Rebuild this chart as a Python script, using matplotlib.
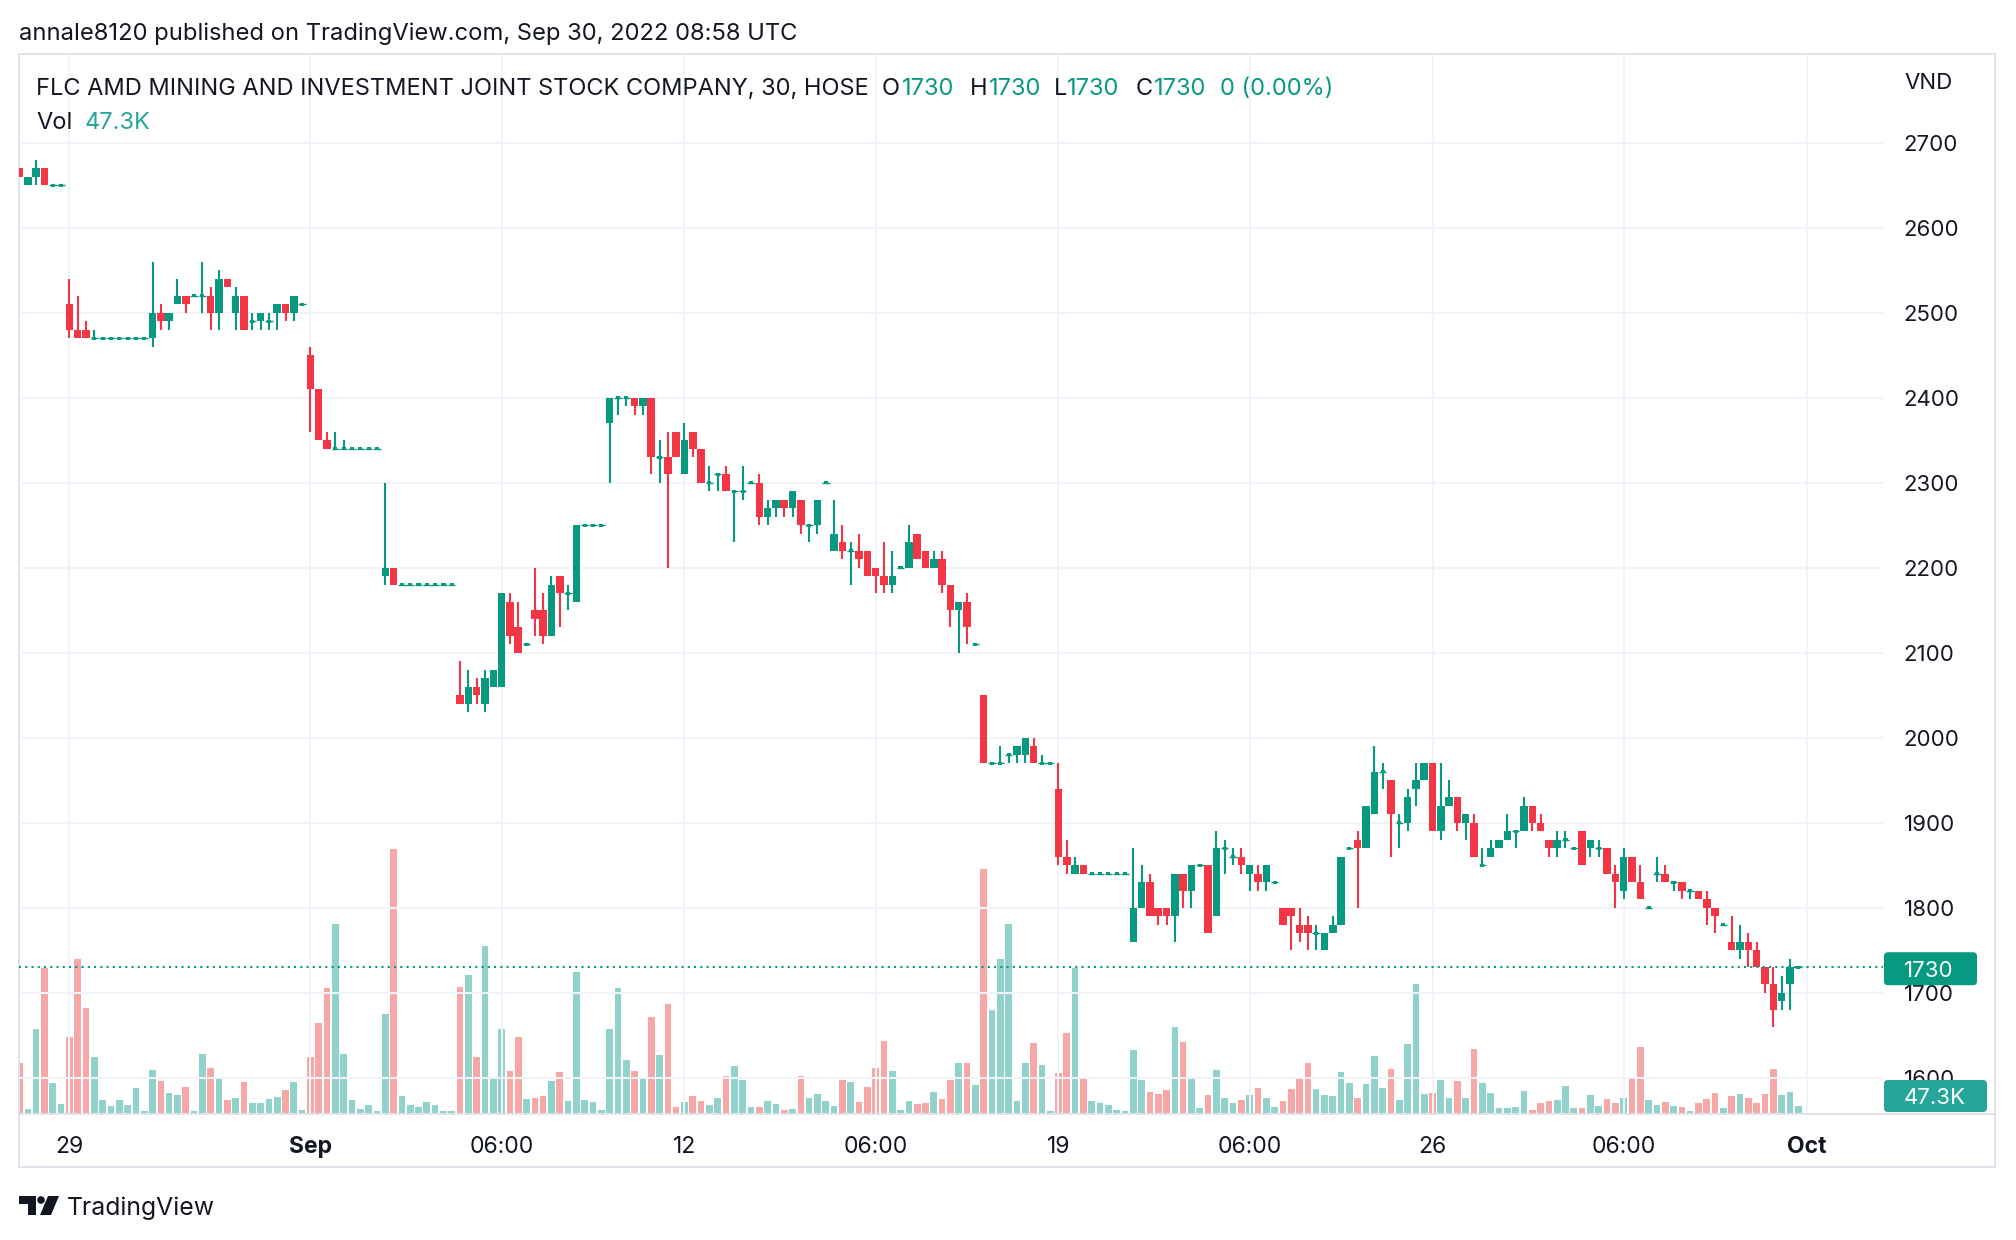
import matplotlib
matplotlib.use("Agg")
import matplotlib.pyplot as plt
import numpy as np
from matplotlib.patches import Rectangle, FancyBboxPatch, Polygon, Circle
from matplotlib.transforms import IdentityTransform, blended_transform_factory

plt.rcParams['font.family'] = ['Inter', 'DejaVu Sans']

# ---------------- data ----------------
bar_index = list(range(-6, 209))

opens = [2670, 2650, 2660, 2670, 2650, 2650,
         2510, 2480, 2480, 2470, 2470, 2470, 2470, 2470, 2470, 2470,
         2470, 2500, 2490, 2510, 2520, 2520, 2520, 2520, 2500, 2540,
         2500, 2520, 2490, 2490, 2490, 2500, 2510, 2500, 2510, 2450,
         2410, 2350, 2340, 2340, 2340, 2340, 2340, 2340, 2190, 2200,
         2180, 2180, 2180, 2180, 2180, 2180, 2180, 2050, 2040, 2060,
         2040, 2060, 2060, 2160, 2130, 2110, 2150, 2150, 2120, 2190,
         2170, 2160, 2250, 2250, 2250, 2370, 2400, 2400, 2400, 2390,
         2400, 2330, 2330, 2360, 2310, 2360, 2340, 2300, 2310, 2310,
         2290, 2290, 2300, 2300, 2260, 2270, 2280, 2270, 2280, 2250,
         2250, 2300, 2220, 2230, 2220, 2220, 2220, 2200, 2190, 2180,
         2200, 2200, 2240, 2220, 2200, 2210, 2180, 2150, 2160, 2110,
         2050, 1970, 1970, 1980, 1980, 1980, 1990, 1970, 1970, 1940,
         1860, 1840, 1850, 1840, 1840, 1840, 1840, 1840, 1760, 1800,
         1830, 1800, 1800, 1790, 1840, 1820, 1850, 1850, 1790, 1870,
         1860, 1860, 1840, 1840, 1830, 1830, 1800, 1800, 1780, 1780,
         1770, 1750, 1770, 1780, 1870, 1880, 1870, 1910, 1960, 1950,
         1900, 1900, 1940, 1950, 1970, 1890, 1920, 1930, 1900, 1900,
         1850, 1860, 1870, 1880, 1890, 1890, 1920, 1900, 1880, 1870,
         1880, 1870, 1890, 1870, 1870, 1870, 1840, 1820, 1860, 1830,
         1800, 1840, 1840, 1830, 1830, 1820, 1820, 1810, 1800, 1780,
         1760, 1750, 1760, 1750, 1730, 1710, 1690, 1710, 1730]

highs = [2670, 2660, 2680, 2670, 2650, 2650,
         2540, 2520, 2490, 2480, 2470, 2470, 2470, 2470, 2470, 2470,
         2560, 2510, 2500, 2540, 2520, 2520, 2560, 2530, 2550, 2540,
         2530, 2520, 2500, 2500, 2500, 2510, 2510, 2520, 2510, 2460,
         2410, 2360, 2360, 2350, 2340, 2340, 2340, 2340, 2300, 2200,
         2180, 2180, 2180, 2180, 2180, 2180, 2180, 2090, 2080, 2070,
         2080, 2080, 2170, 2170, 2160, 2110, 2200, 2170, 2190, 2190,
         2180, 2250, 2250, 2250, 2250, 2400, 2400, 2400, 2400, 2400,
         2400, 2350, 2360, 2360, 2370, 2360, 2340, 2320, 2310, 2320,
         2290, 2320, 2300, 2310, 2280, 2280, 2280, 2290, 2280, 2250,
         2280, 2300, 2280, 2250, 2230, 2240, 2220, 2200, 2230, 2220,
         2200, 2250, 2240, 2220, 2220, 2220, 2180, 2160, 2170, 2110,
         2050, 1970, 1990, 1980, 1990, 2000, 2000, 1980, 1970, 1970,
         1880, 1860, 1850, 1840, 1840, 1840, 1840, 1840, 1870, 1850,
         1840, 1800, 1800, 1840, 1840, 1850, 1850, 1850, 1890, 1880,
         1870, 1870, 1850, 1850, 1850, 1830, 1800, 1800, 1800, 1790,
         1780, 1770, 1790, 1860, 1870, 1890, 1920, 1990, 1970, 1950,
         1910, 1940, 1970, 1970, 1970, 1970, 1950, 1930, 1910, 1910,
         1870, 1880, 1880, 1910, 1890, 1930, 1920, 1910, 1880, 1890,
         1890, 1870, 1890, 1880, 1880, 1870, 1850, 1870, 1860, 1850,
         1800, 1860, 1850, 1830, 1830, 1820, 1820, 1820, 1800, 1780,
         1790, 1780, 1770, 1760, 1730, 1730, 1720, 1740, 1730]

lows = [2660, 2650, 2650, 2650, 2650, 2650,
        2470, 2470, 2470, 2470, 2470, 2470, 2470, 2470, 2470, 2470,
        2460, 2480, 2480, 2510, 2500, 2520, 2500, 2480, 2480, 2530,
        2480, 2480, 2480, 2480, 2480, 2480, 2490, 2490, 2510, 2360,
        2350, 2340, 2340, 2340, 2340, 2340, 2340, 2340, 2180, 2180,
        2180, 2180, 2180, 2180, 2180, 2180, 2180, 2040, 2030, 2040,
        2030, 2060, 2060, 2110, 2100, 2110, 2120, 2110, 2120, 2130,
        2150, 2160, 2250, 2250, 2250, 2300, 2380, 2390, 2380, 2380,
        2310, 2300, 2200, 2330, 2310, 2330, 2300, 2290, 2290, 2290,
        2230, 2280, 2300, 2250, 2250, 2260, 2260, 2260, 2240, 2230,
        2240, 2300, 2220, 2210, 2180, 2200, 2190, 2170, 2170, 2170,
        2200, 2200, 2210, 2200, 2200, 2170, 2130, 2100, 2110, 2110,
        1970, 1970, 1970, 1970, 1970, 1970, 1970, 1970, 1970, 1850,
        1840, 1840, 1840, 1840, 1840, 1840, 1840, 1840, 1760, 1800,
        1790, 1780, 1780, 1760, 1800, 1800, 1850, 1770, 1790, 1840,
        1850, 1840, 1820, 1820, 1820, 1830, 1780, 1750, 1760, 1750,
        1750, 1750, 1770, 1780, 1870, 1800, 1870, 1910, 1940, 1860,
        1870, 1890, 1920, 1950, 1890, 1880, 1920, 1890, 1880, 1860,
        1850, 1860, 1870, 1880, 1870, 1890, 1890, 1890, 1860, 1860,
        1870, 1870, 1850, 1860, 1860, 1840, 1800, 1810, 1830, 1810,
        1800, 1830, 1830, 1820, 1810, 1810, 1810, 1780, 1770, 1780,
        1750, 1740, 1730, 1730, 1700, 1660, 1680, 1680, 1730]

closes = [2660, 2660, 2670, 2650, 2650, 2650,
          2480, 2470, 2470, 2470, 2470, 2470, 2470, 2470, 2470, 2470,
          2500, 2490, 2500, 2520, 2510, 2520, 2520, 2500, 2540, 2530,
          2520, 2480, 2490, 2500, 2490, 2510, 2500, 2520, 2510, 2410,
          2350, 2340, 2340, 2340, 2340, 2340, 2340, 2340, 2200, 2180,
          2180, 2180, 2180, 2180, 2180, 2180, 2180, 2040, 2060, 2050,
          2070, 2080, 2170, 2120, 2100, 2110, 2140, 2120, 2180, 2170,
          2170, 2250, 2250, 2250, 2250, 2400, 2400, 2400, 2390, 2400,
          2330, 2330, 2310, 2330, 2350, 2340, 2300, 2300, 2310, 2290,
          2290, 2290, 2300, 2260, 2270, 2280, 2270, 2290, 2250, 2250,
          2280, 2300, 2240, 2220, 2220, 2210, 2190, 2190, 2180, 2190,
          2200, 2230, 2210, 2200, 2210, 2180, 2150, 2160, 2130, 2110,
          1970, 1970, 1970, 1980, 1990, 2000, 1970, 1970, 1970, 1860,
          1850, 1850, 1840, 1840, 1840, 1840, 1840, 1840, 1800, 1830,
          1790, 1790, 1790, 1840, 1820, 1850, 1850, 1770, 1870, 1870,
          1860, 1850, 1850, 1830, 1850, 1830, 1780, 1790, 1770, 1770,
          1770, 1770, 1780, 1860, 1870, 1870, 1920, 1960, 1960, 1910,
          1900, 1930, 1950, 1970, 1890, 1920, 1930, 1900, 1910, 1860,
          1850, 1870, 1880, 1890, 1890, 1920, 1900, 1890, 1870, 1880,
          1880, 1870, 1850, 1880, 1870, 1840, 1830, 1860, 1830, 1810,
          1800, 1840, 1830, 1830, 1820, 1820, 1810, 1800, 1790, 1780,
          1750, 1760, 1750, 1730, 1710, 1680, 1700, 1730, 1730]

# volume in thousands of shares
volumes_k = [338, 27, 568, 980, 203, 61,
             514, 1041, 709, 378, 88, 47, 88, 54, 169, 14,
             291, 216, 135, 122, 176, 14, 399, 304, 236, 88,
             101, 209, 68, 68, 95, 108, 155, 209, 20, 378,
             608, 845, 1277, 399, 88, 27, 54, 14, 669, 1784,
             115, 54, 41, 74, 54, 14, 14, 851, 932, 378,
             1128, 236, 568, 284, 514, 95, 101, 115, 216, 277,
             81, 953, 88, 74, 20, 568, 845, 358, 284, 236,
             649, 392, 737, 41, 74, 115, 81, 54, 101, 250,
             318, 223, 41, 41, 81, 61, 20, 27, 250, 101,
             128, 81, 47, 223, 209, 74, 176, 304, 487, 284,
             20, 81, 61, 68, 142, 95, 223, 338, 338, 189,
             1649, 696, 1041, 1277, 81, 338, 473, 324, 14, 270,
             541, 980, 243, 81, 68, 54, 20, 14, 426, 223,
             142, 128, 155, 581, 480, 243, 34, 122, 291, 101,
             68, 88, 122, 169, 101, 41, 81, 162, 243, 338,
             162, 122, 115, 277, 203, 101, 196, 385, 169, 297,
             88, 466, 872, 128, 135, 223, 101, 216, 101, 432,
             203, 135, 34, 34, 41, 149, 20, 68, 81, 88,
             182, 34, 34, 122, 47, 95, 68, 101, 236, 446,
             88, 54, 74, 47, 41, 14, 68, 95, 135, 34,
             115, 128, 101, 68, 128, 297, 122, 142, 47.3]

tick_idx = [0, 29, 52, 74, 97, 119, 142, 164, 187, 209]
tick_labels = ['29', 'Sep', '06:00', '12', '06:00', '19', '06:00', '26', '06:00', 'Oct']
bold_labels = {'Sep', 'Oct'}
price_ticks = list(range(1600, 2701, 100))
last_price = 1730
last_volume_text = '47.3K'

header_text = 'annale8120 published on TradingView.com, Sep 30, 2022 08:58 UTC'
title_text = 'FLC AMD MINING AND INVESTMENT JOINT STOCK COMPANY, 30, HOSE'
ohlc_parts = [('O', '1730'), ('H', '1730'), ('L', '1730'), ('C', '1730')]
change_text = '0 (0.00%)'

# ---------------- style ----------------
W, H = 2016, 1240
UP = '#089981'
DN = '#F23645'
VUP = (38/255, 166/255, 154/255, 0.5)
VDN = (239/255, 83/255, 80/255, 0.5)
TXT = '#131722'
GRID = '#F0F3FA'
BORDER = '#E0E3EB'

def fx(x):
    return x / W

def fy(y):
    return 1 - y / H

fig = plt.figure(figsize=(W / 100, H / 100), dpi=100)
fig.patch.set_facecolor('white')

L_PX, R_PX, T_PX, B_PX = 19, 1883, 54, 1113
rect = [fx(L_PX), fy(B_PX), (R_PX - L_PX) / W, (B_PX - T_PX) / H]

axv = fig.add_axes(rect, zorder=1)
ax = fig.add_axes(rect, zorder=2)
ax.patch.set_visible(False)

x = np.array(bar_index, dtype=float)
O = np.array(opens, float)
Hh = np.array(highs, float)
Lw = np.array(lows, float)
C = np.array(closes, float)
V = np.array(volumes_k, float)
up = C >= O

XMIN, XMAX = -6.065, 218.2
YMIN, YMAX = 1558.5, 2804.4

# volume
axv.set_xlim(XMIN, XMAX)
axv.set_ylim(0, 7156)
axv.bar(x, V, width=0.8, color=[VUP if u else VDN for u in up], linewidth=0)
axv.axis('off')

# grid
ax.set_xlim(XMIN, XMAX)
ax.set_ylim(YMIN, YMAX)
for p in price_ticks:
    ax.axhline(p, color=GRID, lw=1.44, zorder=0)
for t in tick_idx:
    ax.axvline(t, color=GRID, lw=1.44, zorder=0)

# candles
cols = np.where(up, UP, DN)
wick = Hh > Lw
ax.vlines(x[wick], Lw[wick], Hh[wick], colors=cols[wick], lw=1.5, zorder=3)
nd = O != C
ax.bar(x[nd], np.abs(C - O)[nd], bottom=np.minimum(O, C)[nd], width=0.9,
       color=cols[nd], linewidth=0, zorder=4)
dj = ~nd
ax.hlines(C[dj], x[dj] - 0.45, x[dj] + 0.45, colors=UP, lw=1.0, zorder=4)
ax.bar(x[dj], 3.6, bottom=C[dj] - 1.8, width=0.5, color=UP, linewidth=0, zorder=4)

# last price dotted line
ax.axhline(last_price, color=UP, lw=1.5, linestyle=(0, (1, 2)), zorder=5)

for s in ax.spines.values():
    s.set_visible(False)
ax.yaxis.tick_right()
ax.set_yticks(price_ticks)
ax.set_yticklabels([str(p) for p in price_ticks])
ax.tick_params(axis='y', length=0, pad=15, labelsize=16, labelcolor=TXT)
ax.set_xticks(tick_idx)
ax.set_xticklabels([''] * len(tick_idx))
ax.tick_params(axis='x', length=0)

tr = blended_transform_factory(ax.transData, fig.transFigure)
for t, lab in zip(tick_idx, tick_labels):
    ax.text(t, fy(1147), lab, transform=tr, ha='center', va='center',
            fontsize=16.5, color=TXT,
            fontweight='bold' if lab in bold_labels else 'normal')

# frame lines
ID = IdentityTransform()
def hline_px(y, x0, x1, color=BORDER, lw=2):
    fig.add_artist(plt.Line2D([fx(x0), fx(x1)], [fy(y), fy(y)], transform=fig.transFigure,
                              color=color, lw=lw * 0.72))
def vline_px(xp, y0, y1, color=BORDER, lw=2):
    fig.add_artist(plt.Line2D([fx(xp), fx(xp)], [fy(y0), fy(y1)], transform=fig.transFigure,
                              color=color, lw=lw * 0.72))

hline_px(54, 19, 1995)
hline_px(1167, 19, 1995)
hline_px(1114, 19, 1995)
vline_px(19, 54, 1167)
vline_px(1995, 54, 1167)

# last price box
fig.canvas.draw()
r = fig.canvas.get_renderer()
_, ypx = ax.transData.transform((0, last_price))
ypx -= 1.5
box = FancyBboxPatch((1884, ypx - 16.5), 93, 33, boxstyle='round,pad=0,rounding_size=4',
                     transform=ID, facecolor=UP, edgecolor='none', zorder=10)
fig.add_artist(box)
fig.text(fx(1904), (ypx - 2) / H, str(last_price), color='white', fontsize=16, va='center',
         ha='left', zorder=11)

_, vpx = axv.transData.transform((0, V[-1]))
vpx = max(vpx, H - 1112 + 16)
box2 = FancyBboxPatch((1884, vpx - 16), 103, 32, boxstyle='round,pad=0,rounding_size=4',
                      transform=ID, facecolor='#26A69A', edgecolor='none', zorder=10)
fig.add_artist(box2)
fig.text(fx(1904), (vpx - 2) / H, last_volume_text, color='white', fontsize=16, va='center',
         ha='left', zorder=11)

fig.text(fx(1904), fy(83), 'VND', color=TXT, fontsize=16, va='center', ha='left')

# header texts
def fit_text(t, target_w):
    w = t.get_window_extent(renderer=r).width
    t.set_fontsize(t.get_fontsize() * target_w / w)

th = fig.text(fx(19), fy(34), header_text, color=TXT, fontsize=17, va='center', ha='left')
fit_text(th, 779)
TY = 89
tt = fig.text(fx(36), fy(TY), title_text, color=TXT, fontsize=17, va='center', ha='left')
fit_text(tt, 832)
fs = tt.get_fontsize()

label_x = [882, 970, 1054, 1136]
value_x = [902, 989, 1067, 1154]
for (lab, val), lx, vx in zip(ohlc_parts, label_x, value_x):
    fig.text(fx(lx), fy(TY), lab, color=TXT, fontsize=fs, va='center', ha='left')
    fig.text(fx(vx), fy(TY), val, color=UP, fontsize=fs, va='center', ha='left')
fig.text(fx(1220), fy(TY), change_text, color=UP, fontsize=fs, va='center', ha='left')

fig.text(fx(36), fy(123), 'Vol', color=TXT, fontsize=fs, va='center', ha='left')
fig.text(fx(85), fy(123), last_volume_text, color='#26A69A', fontsize=fs, va='center', ha='left')

# TradingView logo
def P(pts):
    return [(px, H - py) for px, py in pts]
fig.add_artist(Polygon(P([(19, 1196), (36, 1196), (36, 1215), (28, 1215), (28, 1204), (19, 1204)]),
                       closed=True, transform=ID, facecolor=TXT, edgecolor='none'))
fig.add_artist(Circle((41, H - 1200), 3.8, transform=ID, facecolor=TXT, edgecolor='none'))
fig.add_artist(Polygon(P([(48, 1196), (59, 1196), (51, 1215), (40, 1215)]),
                       closed=True, transform=ID, facecolor=TXT, edgecolor='none'))
tv = fig.text(fx(67), fy(1208), 'TradingView', color=TXT, fontsize=17, va='center', ha='left')
fit_text(tv, 148)

fig.savefig('out.png', dpi=100, facecolor='white')
